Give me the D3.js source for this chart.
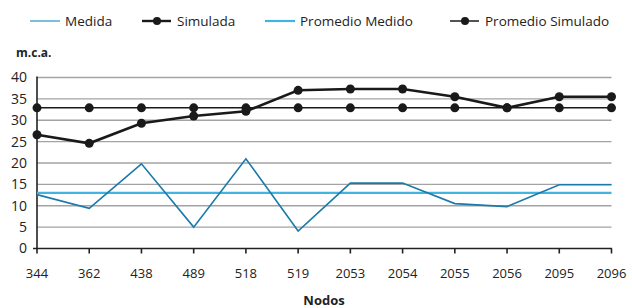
<!DOCTYPE html>
<html><head><meta charset="utf-8">
<script src="https://cdn.jsdelivr.net/npm/d3@7"></script>
<style>
html,body{margin:0;padding:0;background:#fff;}
svg{display:block;font-family:"Open Sans",sans-serif;}
</style></head>
<body>
<svg id="chart" width="632" height="308"></svg>
<script>
const nodos = ["344","362","438","489","518","519","2053","2054","2055","2056","2095","2096"];
const medida = [12.6, 9.4, 19.8, 5.0, 21.0, 4.1, 15.3, 15.3, 10.5, 9.8, 14.9, 14.9];
const simulada = [26.6, 24.6, 29.3, 31.0, 32.1, 37.0, 37.3, 37.3, 35.5, 32.9, 35.5, 35.5];
const promedioMedido = 13.0;
const promedioSimulado = 32.9;
const yTicks = [0,5,10,15,20,25,30,35,40];
const seriesNames = ["Medida","Simulada","Promedio Medido","Promedio Simulado"];

(function(){
const svg = d3.select("#chart");
const mLeft = 37, mRight = 611.5, mTop = 77.5, mBottom = 248.5;
const x = d3.scalePoint().domain(nodos).range([mLeft, mRight]);
const y = d3.scaleLinear().domain([0,40]).range([mBottom, mTop]);

// gridlines
svg.append("g").selectAll("line").data(yTicks.filter(d=>d>0)).join("line")
  .attr("x1", mLeft).attr("x2", mRight)
  .attr("y1", d=>y(d)).attr("y2", d=>y(d))
  .attr("stroke", "#a3a3a3").attr("stroke-width", 1.4);

// y labels
svg.append("g").selectAll("text").data(yTicks).join("text")
  .attr("x", 27).attr("y", d=>y(d)).attr("dy","0.35em")
  .attr("text-anchor","end").attr("font-size", 14).attr("fill","#222")
  .text(d=>d);

// axes
svg.append("line").attr("x1", mLeft).attr("x2", mLeft).attr("y1", mTop-1).attr("y2", mBottom)
  .attr("stroke","#222").attr("stroke-width",1.6);
svg.append("line").attr("x1", mLeft-4).attr("x2", mRight+0.5).attr("y1", mBottom).attr("y2", mBottom)
  .attr("stroke","#222").attr("stroke-width",1.6);
svg.append("g").selectAll("line").data(nodos).join("line")
  .attr("x1", d=>x(d)).attr("x2", d=>x(d)).attr("y1", mBottom).attr("y2", mBottom+5)
  .attr("stroke","#222").attr("stroke-width",1.6);
svg.append("g").selectAll("text").data(nodos).join("text")
  .attr("x", d=>x(d)).attr("y", 273).attr("dy","0.35em")
  .attr("text-anchor","middle").attr("font-size", 13).attr("fill","#222")
  .text(d=>d);

// axis titles
svg.append("text").attr("x", 16).attr("y", 53).attr("dy","0.35em")
  .attr("font-size", 12).attr("font-weight","bold").attr("fill","#222").text("m.c.a.");
svg.append("text").attr("x", 324).attr("y", 300).attr("dy","0.35em").attr("text-anchor","middle")
  .attr("font-size", 13).attr("font-weight","bold").attr("fill","#222").text("Nodos");

const line = d3.line().x((d,i)=>x(nodos[i])).y(d=>y(d));

// promedio medido
svg.append("path").datum(nodos.map(()=>promedioMedido)).attr("d", line)
  .attr("fill","none").attr("stroke","#42b4e0").attr("stroke-width",2.2);
// medida
svg.append("path").datum(medida).attr("d", line)
  .attr("fill","none").attr("stroke","#1b7aa8").attr("stroke-width",1.6);
// promedio simulado
const ps = nodos.map(()=>promedioSimulado);
svg.append("path").datum(ps).attr("d", line)
  .attr("fill","none").attr("stroke","#1a1a1a").attr("stroke-width",1.5);
svg.append("g").selectAll("circle").data(ps).join("circle")
  .attr("cx",(d,i)=>x(nodos[i])).attr("cy",d=>y(d)).attr("r",4.5).attr("fill","#1a1a1a");
// simulada
svg.append("path").datum(simulada).attr("d", line)
  .attr("fill","none").attr("stroke","#1a1a1a").attr("stroke-width",2.6);
svg.append("g").selectAll("circle").data(simulada).join("circle")
  .attr("cx",(d,i)=>x(nodos[i])).attr("cy",d=>y(d)).attr("r",4.5).attr("fill","#1a1a1a");

// legend
const legX = [30, 142, 265, 450];
const ly = 21;
const lg = svg.append("g");
seriesNames.forEach((name,i)=>{
  const g = lg.append("g").attr("transform",`translate(${legX[i]},${ly})`);
  if (i===0) g.append("line").attr("x1",0).attr("x2",30).attr("stroke","#6cb8d8").attr("stroke-width",1.8);
  if (i===2) g.append("line").attr("x1",0).attr("x2",30).attr("stroke","#42b4e0").attr("stroke-width",2.2);
  if (i===1 || i===3) {
    g.append("line").attr("x1",0).attr("x2",29).attr("stroke","#1a1a1a").attr("stroke-width", i===1?2.4:1.5);
    g.append("circle").attr("cx",15).attr("cy",0).attr("r",4).attr("fill","#1a1a1a");
  }
  g.append("text").attr("x",35).attr("y",0).attr("dy","0.35em").attr("font-size",13.5)
    .attr("fill","#222").text(name);
});
})();
</script>
</body></html>
